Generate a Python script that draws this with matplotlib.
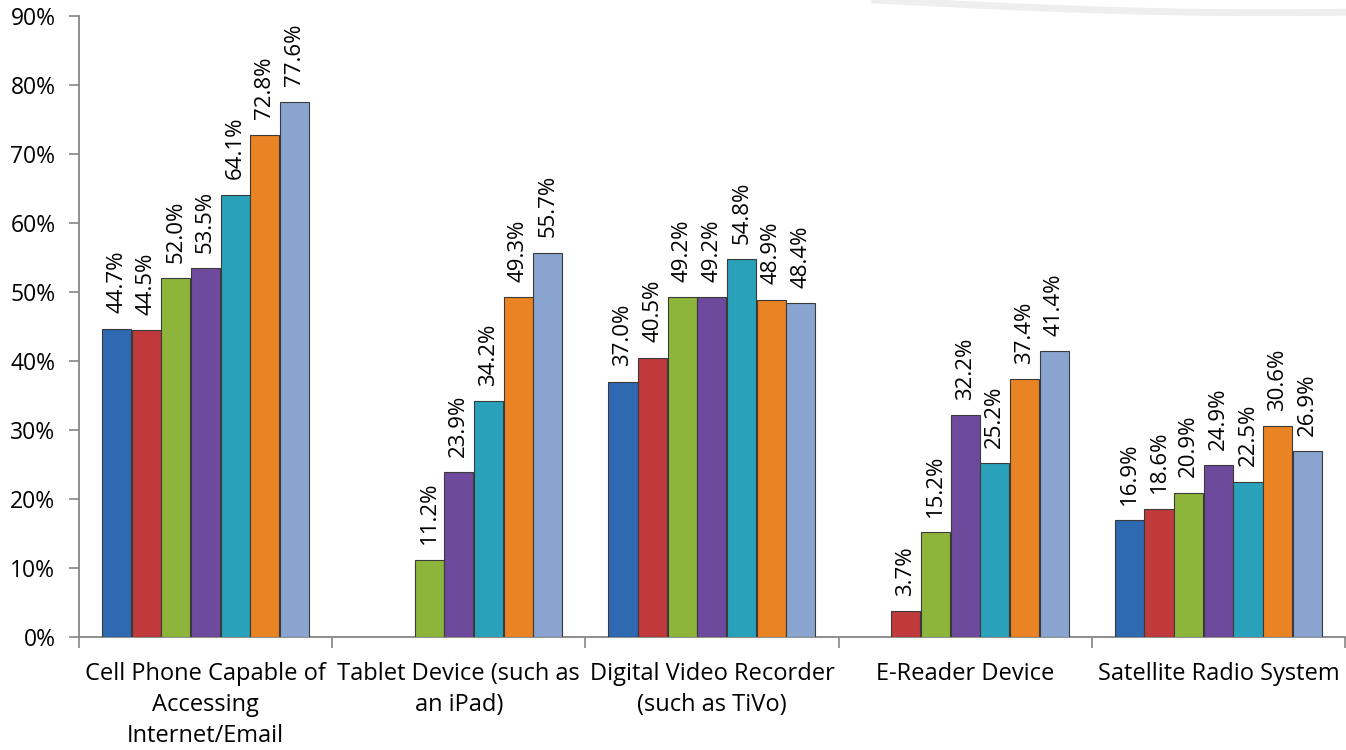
import matplotlib
matplotlib.use("Agg")
import matplotlib.pyplot as plt
import numpy as np

plt.rcParams['font.family'] = ['Open Sans', 'DejaVu Sans']

categories = ["Cell Phone Capable of\nAccessing\nInternet/Email",
              "Tablet Device (such as\nan iPad)",
              "Digital Video Recorder\n(such as TiVo)",
              "E-Reader Device",
              "Satellite Radio System"]

# one list per series (nan = no bar)
s1 = [44.7, np.nan, 37.0, np.nan, 16.9]
s2 = [44.5, np.nan, 40.5, 3.7, 18.6]
s3 = [52.0, 11.2, 49.2, 15.2, 20.9]
s4 = [53.5, 23.9, 49.2, 32.2, 24.9]
s5 = [64.1, 34.2, 54.8, 25.2, 22.5]
s6 = [72.8, 49.3, 48.9, 37.4, 30.6]
s7 = [77.6, 55.7, 48.4, 41.4, 26.9]
series = [s1, s2, s3, s4, s5, s6, s7]
colors = ["#2f69b1", "#c0393b", "#8db53c", "#6d4a9b", "#2aa1bb", "#ea8323", "#8aa4d0"]

fig = plt.figure(figsize=(13.46, 7.5), dpi=100)
ax = fig.add_axes([0.0587, 0.1507, 0.9405, 0.828])

x = np.arange(len(categories))
n = len(series)
w = 0.82 / n
for i, (vals, c) in enumerate(zip(series, colors)):
    pos = x - 0.41 + w * (i + 0.5)
    vals = np.array(vals)
    ax.bar(pos, vals, width=w * 0.98, color=c, edgecolor="#3a3a3a", linewidth=0.8, zorder=3)
    for p, v in zip(pos, vals):
        if np.isnan(v):
            continue
        ax.annotate("%.1f%%" % v, (p, v), xytext=(0, 11), textcoords="offset points",
                    rotation=90, ha="center", va="bottom", fontsize=16, color="black")

ax.set_xlim(-0.5, len(categories) - 0.5)
ax.set_ylim(0, 90)
ax.set_yticks(np.arange(0, 91, 10))
ax.set_yticklabels(["%d%%" % t for t in range(0, 91, 10)], fontsize=16.5)
ax.set_xticks(x)
ax.set_xticklabels(categories, fontsize=17, linespacing=1.38, va="top")
ax.set_xticks(np.arange(-0.5, len(categories)), minor=True)
ax.tick_params(axis="x", which="major", length=0, pad=18)
ax.tick_params(axis="x", which="minor", length=8, color="#868686", width=1.2, direction="out")
ax.tick_params(axis="y", length=7, color="#868686", width=1.2, pad=10)

for sp in ["top", "right"]:
    ax.spines[sp].set_visible(False)
for sp in ["left", "bottom"]:
    ax.spines[sp].set_color("#868686")
    ax.spines[sp].set_linewidth(1.3)

# faint decorative swoosh at the top right
tt = np.linspace(0, 1, 60)
fig.add_artist(plt.Line2D(0.65 + 0.35 * tt, 1.0 - 0.017 * np.sin(np.pi * tt * 0.6),
                          transform=fig.transFigure, color="#eeeeee", linewidth=5, zorder=0))

fig.savefig("out.png", dpi=100)
